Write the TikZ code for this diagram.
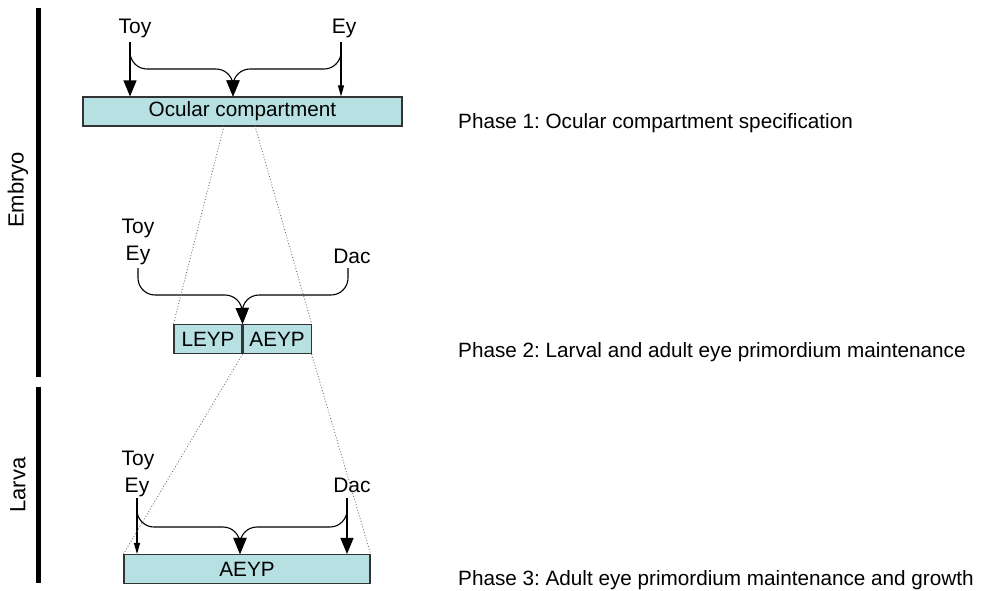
\documentclass[tikz,border=0pt]{standalone}
\usepackage{fontspec}
\setmainfont{Liberation Sans}
\usetikzlibrary{arrows.meta}
\definecolor{boxcyan}{RGB}{183,224,227}
\frenchspacing
\tikzset{
  gene/.style={inner sep=0pt,anchor=base,font=\fontsize{21}{23}\selectfont},
  phase/.style={inner sep=0pt,anchor=base west,font=\fontsize{20.7}{24}\selectfont},
  stage/.style={inner sep=0pt,rotate=90,font=\fontsize{22}{24}\selectfont},
  compbox/.style={draw=black!80,line width=1.1pt,fill=boxcyan,inner sep=0pt,font=\fontsize{20.7}{23}\selectfont},
  bigarrow/.style={line width=1.1pt,-{Triangle[width=13pt,length=16pt]}},
  smallarrow/.style={line width=1.1pt,-{Triangle[width=6pt,length=11pt]}},
  arm/.style={line width=1.1pt,rounded corners=17pt},
  zoomline/.style={black!55,dotted,line width=0.9pt},
}
\begin{document}
\begin{tikzpicture}[x=1pt,y=-1pt]
  \useasboundingbox (0,0) rectangle (990,590);

  % stage bars
  \fill (36,8) rectangle (41,377);
  \fill (36,387) rectangle (41,583);
  \node[stage] (embryo) at (18,190) {Embryo};
  \node[stage] (larva) at (18,485) {Larva};

  % phase 1
  \node[compbox,minimum width=319pt,minimum height=29pt] (ocular) at (242.5,111.5) {Ocular compartment};
  \node[gene] (toyA) at (135,33) {Toy};
  \node[gene] (eyA) at (344,33) {Ey};
  \coordinate (toyAs) at (130,42);
  \coordinate (eyAs) at (341,42);
  \coordinate (hA) at (233,69);
  \draw[bigarrow] (toyAs) -- (toyAs |- ocular.north);
  \draw[smallarrow] (eyAs) -- (eyAs |- ocular.north);
  \draw[arm,bigarrow] (toyAs) |- (hA) -- (hA |- ocular.north);
  \draw[arm,bigarrow] (eyAs) |- (hA) -- (hA |- ocular.north);
  \node[phase] (ph1) at (458,128) {Phase 1: Ocular compartment specification};

  % phase 2
  \node[compbox,minimum width=68pt,minimum height=29pt] (leyp) at (208,339) {LEYP};
  \node[compbox,minimum width=68pt,minimum height=29pt,anchor=west] (aeypB) at (leyp.east) {AEYP};
  \node[gene] (toyB) at (138,233) {Toy};
  \node[gene] (eyB) at (138,260) {Ey};
  \node[gene] (dacB) at (352,263) {Dac};
  \coordinate (eyBs) at (138,268);
  \coordinate (dacBs) at (348,268);
  \coordinate (hB) at (242,295);
  \draw[arm,bigarrow] (eyBs) |- (hB) -- (leyp.north east);
  \draw[arm,bigarrow] (dacBs) |- (hB) -- (leyp.north east);
  \draw[zoomline] (224,126) -- (leyp.north west);
  \draw[zoomline] (255,126) -- (aeypB.north east);
  \node[phase] (ph2) at (458,357) {Phase 2: Larval and adult eye primordium maintenance};

  % phase 3
  \node[compbox,minimum width=246pt,minimum height=29pt] (aeypC) at (247,569) {AEYP};
  \node[gene] (toyC) at (138,465) {Toy};
  \node[gene] (eyC) at (137,492) {Ey};
  \node[gene] (dacC) at (352,492) {Dac};
  \coordinate (eyCs) at (137,498);
  \coordinate (dacCs) at (347,498);
  \coordinate (hC) at (240,527);
  \draw[smallarrow] (eyCs) -- (eyCs |- aeypC.north);
  \draw[bigarrow] (dacCs) -- (dacCs |- aeypC.north);
  \draw[arm,bigarrow] (eyCs) |- (hC) -- (hC |- aeypC.north);
  \draw[arm,bigarrow] (dacCs) |- (hC) -- (hC |- aeypC.north);
  \draw[zoomline] (aeypB.south west) -- (aeypC.north west);
  \draw[zoomline] (aeypB.south east) -- (aeypC.north east);
  \node[phase] (ph3) at (458,585) {Phase 3: Adult eye primordium maintenance and growth};
\end{tikzpicture}
\end{document}
